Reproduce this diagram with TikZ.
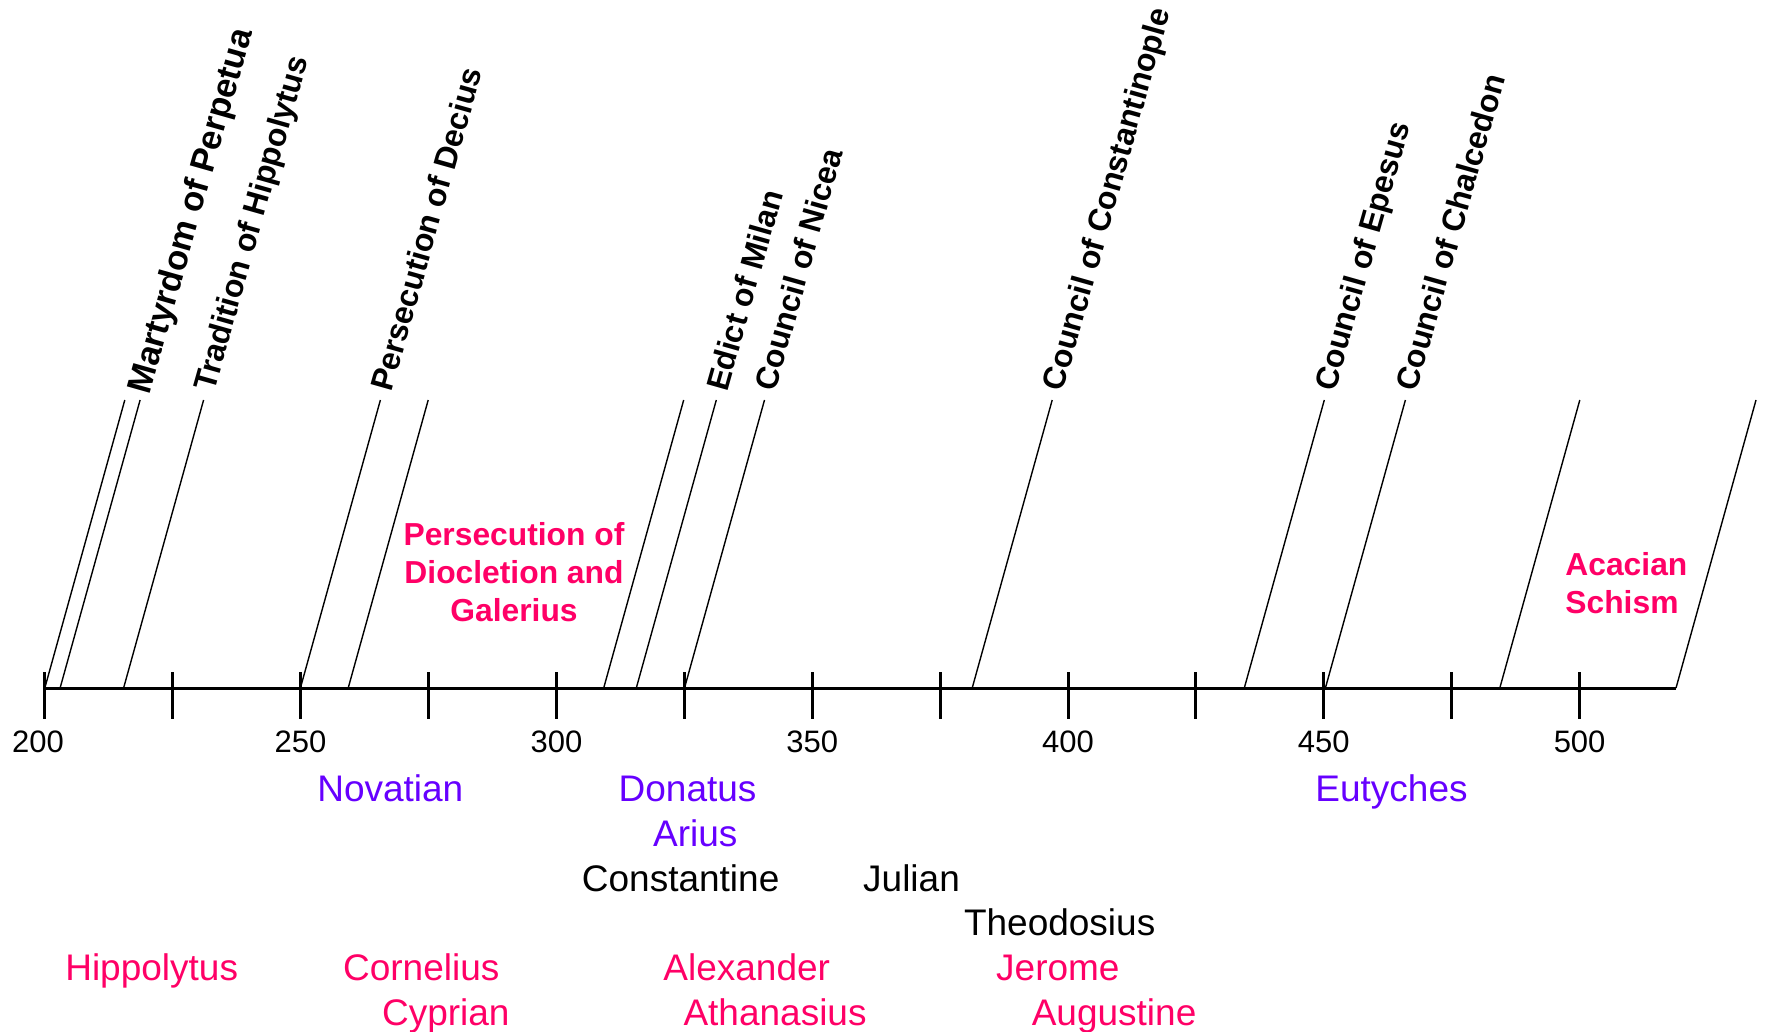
\documentclass[tikz,border=0pt]{standalone}
\usepackage{fontspec}
\setmainfont{Liberation Sans}
\definecolor{evpurple}{HTML}{6600FF}
\definecolor{evpink}{HTML}{FF0066}
\begin{document}
\begin{tikzpicture}[x=0.5pt,y=-0.5pt,
  axisline/.style={line width=1.5pt},
  tickline/.style={line width=1.5pt},
  evline/.style={line width=0.7pt},
  evlabel/.style={rotate=74.2, anchor=base west, inner sep=0pt, font=\fontsize{15.9}{19}\selectfont\bfseries},
  yearlbl/.style={anchor=base, inner sep=0pt, font=\fontsize{15.5}{18}\selectfont},
  namelbl/.style={anchor=base west, inner sep=0pt, font=\fontsize{18.5}{22}\selectfont},
  eralbl/.style={anchor=base, inner sep=0pt, text=evpink, font=\fontsize{15.9}{19.15}\selectfont\bfseries}]
\useasboundingbox (0,0) rectangle (1766,1032);

% axis
\coordinate (axL) at (44.8,688);
\coordinate (axR) at (1676,688);
\draw[axisline] (axL) -- (axR);

% ticks and year labels
\foreach \k in {0,...,12}{
  \coordinate (tk\k a) at ({44.8+\k*127.9},672);
  \coordinate (tk\k b) at ({44.8+\k*127.9},719);
  \draw[tickline] (tk\k a) -- (tk\k b);
}
\foreach \k/\yr in {2/250,4/300,6/350,8/400,10/450,12/500}{
  \node[yearlbl] (yr\yr) at ({44.8+\k*127.9},752) {\yr};
}
\node[yearlbl] (yr200) at (38,752) {200};

% event lines
\foreach \i/\b in {1/44.8,2/60.1,3/123.6,4/300.4,5/348.2,6/603.7,7/636.3,8/684.5,9/972.2,10/1244.3,11/1325.4,12/1499.8,13/1676}{
  \coordinate (b\i) at (\b,688);
  \coordinate (t\i) at ({\b+80},400);
  \draw[evline] (b\i) -- (t\i);
}

% event labels
\node[evlabel, font=\fontsize{17.25}{20}\selectfont\bfseries] (lab2) at (149.7,396) {Martyrdom of Perpetua};
\node[evlabel] (lab3) at (214.2,393) {Tradition of Hippolytus};
\node[evlabel] (lab4) at (391.5,393) {Persecution of Decius};
\node[evlabel] (lab7) at (726.9,393) {Edict of Milan};
\node[evlabel] (lab8) at (775.1,393) {Council of Nicea};
\node[evlabel] (lab9) at (1062.8,393) {Council of Constantinople};
\node[evlabel] (lab10) at (1334.9,393) {Council of Epesus};
\node[evlabel] (lab11) at (1416.5,393) {Council of Chalcedon};

% era labels (base = last line)
\node[eralbl, align=center] (diocl) at (514,621.7) {Persecution of\\Diocletion and\\Galerius};
\node[eralbl, align=left, anchor=base west] (acac) at (1565,613.3) {Acacian\\Schism};

% names
\node[namelbl, text=evpurple] (novatian) at (316.9,801.7) {Novatian};
\node[namelbl, text=evpurple] (donatus) at (618.3,801.7) {Donatus};
\node[namelbl, text=evpurple] (arius) at (652.7,846) {Arius};
\node[namelbl, text=evpurple] (eutyches) at (1315,801.7) {Eutyches};
\node[namelbl] (constantine) at (581.5,891) {Constantine};
\node[namelbl] (julian) at (862.8,891) {Julian};
\node[namelbl] (theodosius) at (963.6,935) {Theodosius};
\node[namelbl, text=evpink] (hippolytus) at (64.9,980) {Hippolytus};
\node[namelbl, text=evpink] (cornelius) at (342.7,980) {Cornelius};
\node[namelbl, text=evpink] (cyprian) at (381.7,1025) {Cyprian};
\node[namelbl, text=evpink] (alexander) at (663,980) {Alexander};
\node[namelbl, text=evpink] (athanasius) at (683.1,1025) {Athanasius};
\node[namelbl, text=evpink] (jerome) at (995.8,980) {Jerome};
\node[namelbl, text=evpink] (augustine) at (1031.4,1025) {Augustine};
\end{tikzpicture}
\end{document}
